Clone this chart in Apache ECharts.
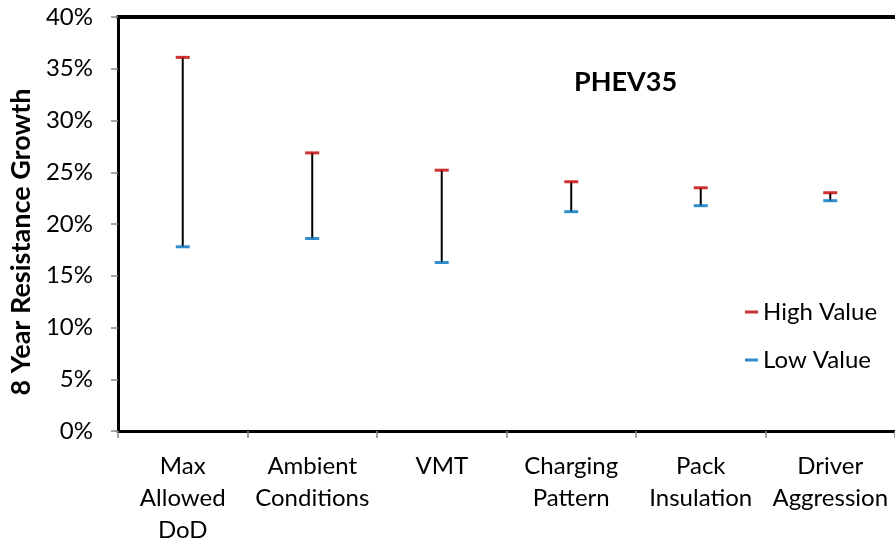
<!DOCTYPE html>
<html><head><meta charset="utf-8">
<script src="https://cdn.jsdelivr.net/npm/echarts@6/dist/echarts.min.js"></script>
<style>html,body{margin:0;padding:0;background:#fff}#c{width:895px;height:546px}</style>
</head><body><div id="c"></div>
<script>
const categories = ["Max\nAllowed\nDoD", "Ambient\nConditions", "VMT", "Charging\nPattern", "Pack\nInsulation", "Driver\nAggression"];
const highValues = [0.361, 0.2687, 0.252, 0.2408, 0.235, 0.2302];
const lowValues = [0.178, 0.186, 0.1628, 0.2119, 0.2177, 0.2225];
const yTicks = [0, 0.05, 0.10, 0.15, 0.20, 0.25, 0.30, 0.35, 0.40];

const FONT = 'Lato';
const chart = echarts.init(document.getElementById('c'));
const rangeData = categories.map((c, i) => [i, lowValues[i], highValues[i]]);
chart.setOption({
  animation: false,
  textStyle: { fontFamily: FONT },
  title: {
    text: 'PHEV35', left: 569, top: 64,
    textStyle: { fontFamily: FONT, fontSize: 27, fontWeight: 'bold', color: '#000' }
  },
  legend: {
    data: ['High Value', 'Low Value'],
    orient: 'vertical', left: 740, top: 295,
    icon: 'rect', itemWidth: 13, itemHeight: 3, itemGap: 24,
    textStyle: { fontFamily: FONT, fontSize: 24, color: '#000', lineHeight: 24 }
  },
  grid: { left: 116, right: -1, top: 17, bottom: 114, containLabel: false },
  xAxis: [{
    type: 'category', data: categories, position: 'bottom',
    axisLine: { lineStyle: { color: '#000', width: 3 } },
    axisTick: { show: true, alignWithLabel: false, length: 7, lineStyle: { color: '#888', width: 1.5 } },
    axisLabel: { fontFamily: FONT, fontSize: 24, color: '#000', margin: 19, lineHeight: 32, interval: 0 },
    splitLine: { show: false }
  }, {
    type: 'category', data: categories, position: 'top',
    axisLine: { lineStyle: { color: '#000', width: 4 } },
    axisTick: { show: false }, axisLabel: { show: false }
  }],
  yAxis: {
    type: 'value', min: 0, max: 0.4, interval: 0.05,
    name: '8 Year Resistance Growth', nameLocation: 'middle', nameGap: 76, nameRotate: 90,
    nameTextStyle: { fontFamily: FONT, fontSize: 27, fontWeight: 'bold', color: '#000', padding: [0, 36, 0, 0] },
    axisLine: { show: true, lineStyle: { color: '#000', width: 3 } },
    axisTick: { show: true, length: 7, lineStyle: { color: '#888', width: 1.5 } },
    axisLabel: {
      fontFamily: FONT, fontSize: 24, color: '#000', margin: 25,
      formatter: v => {
        const t = yTicks.find(x => Math.abs(x - v) < 1e-9);
        return Math.round((t !== undefined ? t : v) * 100) + '%';
      }
    },
    splitLine: { show: false }
  },
  series: [
    {
      name: 'Range', type: 'custom', data: rangeData, z: 1,
      encode: { x: 0, y: [1, 2] },
      renderItem: (params, api) => {
        const p1 = api.coord([api.value(0), api.value(1)]);
        const p2 = api.coord([api.value(0), api.value(2)]);
        return { type: 'line', shape: { x1: p1[0], y1: p1[1], x2: p2[0], y2: p2[1] },
          style: { stroke: '#000', lineWidth: 2 } };
      }
    },
    {
      name: 'High Value', type: 'scatter', data: highValues, z: 3,
      symbol: 'rect', symbolSize: [14, 3], itemStyle: { color: '#C00000' }
    },
    {
      name: 'Low Value', type: 'scatter', data: lowValues, z: 3,
      symbol: 'rect', symbolSize: [14, 3], itemStyle: { color: '#0070C0' }
    }
  ]
});
</script></body></html>
